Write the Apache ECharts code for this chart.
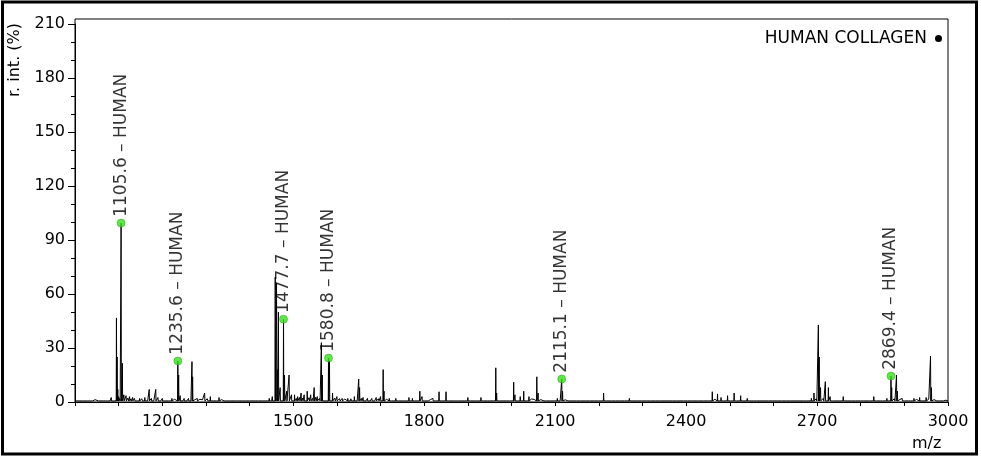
<!DOCTYPE html>
<html>
<head>
<meta charset="utf-8">
<script src="https://cdn.jsdelivr.net/npm/echarts@6/dist/echarts.min.js"></script>
<style>html,body{margin:0;padding:0;background:#fff}#c{width:981px;height:458px}</style>
</head>
<body>
<div id="c"></div>
<script>
// Spectrum peaks: [m/z, relative intensity %]
const peaks = [
  [1083,2.5],[1088,1.6],
  [1095,46.7],[1096.5,25],[1098,7],[1100,3],[1105.6,99.4],[1108.5,21.5],[1112,4],[1117,3.5],
  [1125,3],[1132,2.5],[1140,1.5],[1148,2],[1160,2.5],[1170,7],[1175,2],[1185,7],[1190,2.5],
  [1200,2],[1210,1.5],[1222,2],[1235.6,22.8],[1237.5,15],[1241,3.5],[1250,2],[1260,2],
  [1268,22.4],[1269.5,14],[1280,2],[1297,5],[1310,3],[1320,1.5],[1330,2.5],[1342,1.5],
  [1355,1.2],[1370,1.5],[1385,1.2],[1400,1],[1415,1.5],[1430,1.5],[1445,2],[1452,3],
  [1458.7,69.4],[1461.7,66],[1463.5,18],[1466,50],[1470,8],[1477.7,46],[1480,15],[1485,6],
  [1490.5,15],[1496,4],[1503,4],[1510,3],[1518,5],[1525,4],[1532,6],[1540,4],[1548,8],[1555,3],
  [1564.5,33],[1566.5,15],[1580.8,24.4],[1583,23],[1590,5],[1600,3],[1612,2],[1625,2],[1640,3],
  [1650,12.8],[1652,8],[1660,2.5],[1670,2],[1680,2],[1690,2.5],[1700,3],[1706,18],[1708,6],
  [1720,2],[1735,2],[1750,1.5],[1765,2.5],[1773,2],[1790,6],[1795,3],[1810,1.5],[1820,2],
  [1834,5.7],[1850,5.7],[1870,1.5],[1885,1],[1900,2.5],[1915,1.5],[1930,2.5],[1945,1.5],
  [1964,19],[1966,5],[1975,1.5],[1990,1.5],[2005,11],[2008,4],[2020,3],[2028,6],[2040,3],
  [2058,14],[2061,5],[2075,1.5],[2090,1.5],[2105,2],[2115.1,12.8],[2117,6],[2130,1.5],
  [2150,1],[2170,1.2],[2190,1.5],[2211,5],[2230,1.2],[2250,1.5],[2270,2],[2290,1.2],[2310,1],
  [2330,1.5],[2350,1],[2370,1.2],[2395,1.5],[2415,1.2],[2440,1.5],[2460,5.7],[2472,4.5],
  [2480,2.5],[2495,3.5],[2510,5],[2525,3.5],[2540,2],[2555,1.5],[2570,1.5],[2590,1.2],
  [2610,1],[2630,1.2],[2650,1],[2670,1.2],[2687,2],[2693,5],[2703,42.8],[2705,25],[2708,8],
  [2719,11.3],[2726,8],[2730,3],[2740,1.5],[2760,3],[2780,1.5],[2800,1],[2815,1.5],[2830,3],
  [2845,1.2],[2860,2],[2869.4,14.4],[2871,8],[2882,15],[2884,6],[2895,2],[2910,1.5],
  [2922,2],[2935,2.5],[2950,2.5],[2960,25.5],[2962,8],[2975,1.5],[2990,1]
];
// Baseline noise bumps: [m/z, height]
const noise = [
  [1003,1.0],[1008,0.7],[1013,0.9],[1018,1.1],[1024,1.2],[1030,0.8],[1037,0.9],[1042,1.2],
  [1046,1.3],[1055,0.9],[1058,1.0],[1066,1.3],[1071,1.4],[1076,1.1],[1079,1.2],[1102,2.0],
  [1121,2.2],[1128,1.8],[1136,2.0],[1144,1.6],[1153,1.8],[1165,1.5],[1179,1.7],[1195,1.4],
  [1205,1.6],[1216,1.3],[1228,1.5],[1246,1.7],[1255,1.4],[1264,1.6],[1275,1.3],[1286,1.5],
  [1292,1.2],[1303,1.8],[1315,1.4],[1326,1.6],[1336,1.3],[1348,1.5],[1361,1.2],[1377,1.4],
  [1392,1.2],[1407,1.3],[1422,1.1],[1437,1.4],[1449,1.6],[1507,2.0],[1514,2.5],[1521,2.2],
  [1536,2.4],[1544,2.0],[1551,2.6],[1560,2.0],[1595,2.2],[1606,1.8],[1618,1.6],[1632,1.8],
  [1645,1.7],[1656,2.0],[1665,1.6],[1675,1.4],[1685,1.6],[1695,1.8],[1714,1.5],[1727,1.4],
  [1742,1.3],[1757,1.5],[1780,1.6],[1802,1.3],[1815,1.4],[1827,1.6],[1842,1.5],[1858,1.3],
  [1863,1.2],[1878,1.1],[1893,1.3],[1907,1.2],[1922,1.4],[1938,1.2],[1952,1.6],[1970,1.3],
  [1982,1.2],[1997,1.4],[2013,1.6],[2033,1.5],[2046,1.7],[2052,1.4],[2067,1.3],[2082,1.2],
  [2097,1.3],[2110,1.5],[2123,1.2],[2140,1.1],[2160,1.0],[2180,1.1],[2200,1.0],[2220,1.1],
  [2240,1.0],[2260,1.2],[2280,1.1],[2300,1.0],[2320,1.1],[2340,1.0],[2360,1.1],[2380,1.0],
  [2405,1.1],[2428,1.0],[2450,1.3],[2466,1.5],[2488,1.6],[2503,1.5],[2517,1.4],[2532,1.4],
  [2548,1.2],[2563,1.1],[2580,1.1],[2600,1.0],[2620,1.1],[2640,1.0],[2660,1.1],[2677,1.3],
  [2698,1.8],[2714,2.0],[2734,1.6],[2750,1.2],[2770,1.1],[2790,1.2],[2808,1.0],[2822,1.2],
  [2838,1.0],[2852,1.3],[2877,1.8],[2890,1.4],[2902,1.2],[2916,1.3],[2928,1.4],[2942,1.5],
  [2956,1.6],[2968,1.3],[2982,1.1],[2995,1.0]
];
const baseline = 0.6;
// Annotated peaks
const labelMz = [1105.6, 1235.6, 1477.7, 1580.8, 2115.1, 2869.4];
const labelInt = [99.4, 22.8, 46, 24.4, 12.8, 14.4];
const labelTag = 'HUMAN';
const seriesName = 'HUMAN COLLAGEN';
const xTickLabels = [1200, 1500, 1800, 2100, 2400, 2700, 3000];
const yTickLabels = [0, 30, 60, 90, 120, 150, 180, 210];

const pts = [];
peaks.forEach(function (p) { pts.push([p[0], p[1], 0.6]); });
noise.forEach(function (p) { pts.push([p[0], p[1], 1.5]); });
pts.sort(function (a, b) { return a[0] - b[0]; });
const lineData = [[1000, baseline]];
pts.forEach(function (p) {
  lineData.push([p[0] - p[2], baseline], [p[0], p[1]], [p[0] + p[2], baseline]);
});
lineData.push([3000, baseline]);
const markData = labelMz.map(function (m, i) { return [m, labelInt[i]]; });

const FONT = 'DejaVu Sans';
const chart = echarts.init(document.getElementById('c'), null, {renderer: 'canvas'});
chart.setOption({
  animation: false,
  backgroundColor: '#fff',
  textStyle: {fontFamily: FONT},
  grid: {left: 75, right: 33, top: 24, bottom: 56},
  legend: {
    data: [{name: seriesName, icon: 'circle'}],
    right: 39, top: 30, padding: 0, align: 'right',
    itemWidth: 7, itemHeight: 7, itemGap: 0,
    textStyle: {fontFamily: FONT, fontSize: 17, color: '#000', padding: [0, 3, 0, 0]}
  },
  xAxis: {
    type: 'value', min: 1000, max: 3000, interval: 100,
    axisLine: {lineStyle: {color: '#000', width: 1}},
    axisTick: {length: 4, lineStyle: {color: '#000'}},
    splitLine: {show: false},
    axisLabel: {
      fontFamily: FONT, fontSize: 16, color: '#000', margin: 12,
      formatter: function (v) { return xTickLabels.indexOf(v) >= 0 ? String(v) : ''; }
    }
  },
  yAxis: {
    type: 'value', min: 0, max: 210, interval: 30,
    axisLine: {show: true, lineStyle: {color: '#000', width: 1}},
    axisTick: {show: true, length: 7, lineStyle: {color: '#000'}},
    minorTick: {show: true, splitNumber: 3, length: 4, lineStyle: {color: '#000'}},
    splitLine: {show: false},
    axisLabel: {
      fontFamily: FONT, fontSize: 16, color: '#000', margin: 10,
      formatter: function (v) { return yTickLabels.indexOf(v) >= 0 ? String(v) : ''; }
    }
  },
  graphic: [
    {type: 'rect', shape: {x: 75, y: 19, width: 873, height: 383},
     style: {fill: 'none', stroke: '#000', lineWidth: 1}, z: 0, silent: true},
    {type: 'rect', shape: {x: 2.5, y: 2, width: 974, height: 452},
     style: {fill: 'none', stroke: '#000', lineWidth: 3}, z: 0, silent: true},
    {type: 'text', x: 912, y: 436,
     style: {text: 'm/z', font: '16px "DejaVu Sans"', fill: '#000'}, silent: true},
    {type: 'text', x: 7, y: 97, rotation: Math.PI / 2,
     style: {text: 'r. int. (%)', font: '16px "DejaVu Sans"', fill: '#000'}, silent: true}
  ],
  series: [
    {
      name: seriesName, type: 'line', data: lineData, showSymbol: false, symbol: 'none',
      lineStyle: {color: '#000', width: 1}, itemStyle: {color: '#000'}, z: 2
    },
    {
      name: 'labels', type: 'scatter', data: markData, symbol: 'circle', symbolSize: 8,
      itemStyle: {color: '#33e31a', borderColor: '#2a9a1a', borderWidth: 0.6},
      label: {
        show: true, position: 'top', distance: 2, rotate: 90, align: 'left', verticalAlign: 'middle',
        fontFamily: FONT, fontSize: 17, color: '#000',
        formatter: function (p) { return p.value[0].toFixed(1) + ' \u2013 ' + labelTag; }
      },
      z: 3
    }
  ]
});
</script>
</body>
</html>
